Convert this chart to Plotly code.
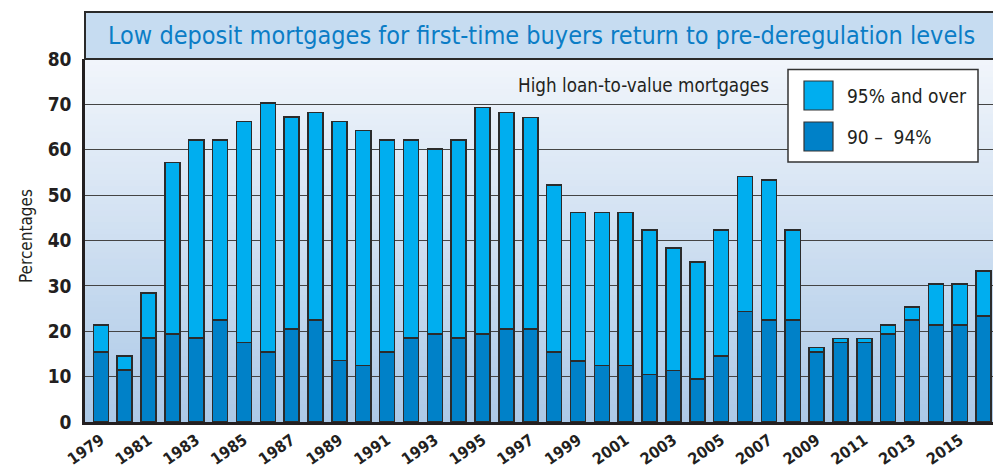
import plotly.graph_objects as go

# ---- data ----
years = list(range(1979, 2017))
total_high_ltv = [21.4, 14.5, 28.4, 57.2, 62.1, 62.1, 66.2, 70.3, 67.2, 68.2, 66.2, 64.2,
                  62.1, 62.1, 60.2, 62.1, 69.3, 68.2, 67.1, 52.2, 46.2, 46.2, 46.2, 42.3, 38.3,
                  35.3, 42.3, 54.1, 53.3, 42.3, 16.4, 18.4, 18.4, 21.4, 25.4, 30.4, 30.4, 33.3]
pct_90_94 = [15.4, 11.5, 18.5, 19.4, 18.5, 22.5, 17.5, 15.4, 20.5, 22.5, 13.5, 12.5,
             15.4, 18.5, 19.4, 18.5, 19.4, 20.5, 20.5, 15.4, 13.4, 12.5, 12.5, 10.5, 11.4,
             9.5, 14.5, 24.4, 22.5, 22.5, 15.4, 17.5, 17.5, 19.4, 22.5, 21.4, 21.4, 23.4]
pct_95_over = [round(t - l, 1) for t, l in zip(total_high_ltv, pct_90_94)]
tick_years = list(range(1979, 2016, 2))
tick_labels = [str(y) for y in tick_years]
y_ticks = list(range(0, 81, 10))

title_text = "Low deposit mortgages for first-time buyers return to pre-deregulation levels"
subtitle_text = "High loan-to-value mortgages"
legend_labels = ["95% and over", "90 \u2013  94%"]

# ---- style ----
FONT = "Liberation Sans Narrow, Arial Narrow, DejaVu Sans Condensed, sans-serif"
DARK = "#231f20"
C_UPPER = "#00aeef"
C_LOWER = "#0081c8"
OUTLINE = "#2b2b2b"

W, H = 993, 469
L, R, T, B = 85, 993, 59, 422
pw, ph = R - L, B - T


def px_x(x):
    return (x - L) / pw


def px_y(y):
    return (B - y) / ph


fig = go.Figure()
fig.add_trace(go.Bar(x=years, y=pct_90_94, name=legend_labels[1], width=0.63,
                     marker=dict(color=C_LOWER, line=dict(color=OUTLINE, width=1.5)),
                     showlegend=False))
fig.add_trace(go.Bar(x=years, y=pct_95_over, name=legend_labels[0], width=0.63,
                     marker=dict(color=C_UPPER, line=dict(color=OUTLINE, width=1.5)),
                     showlegend=False))

shapes = []
# vertical gradient background of plot area
n = 60
top_rgb = (0xf1, 0xf5, 0xfb)
bot_rgb = (0xac, 0xc9, 0xe7)
for i in range(n):
    f = i / (n - 1)
    c = tuple(int(round(bot_rgb[k] + (top_rgb[k] - bot_rgb[k]) * f)) for k in range(3))
    shapes.append(dict(type="rect", xref="paper", yref="paper", layer="below",
                       x0=0, x1=1, y0=i / n, y1=(i + 1) / n + 0.002,
                       fillcolor="rgb(%d,%d,%d)" % c, line=dict(width=0)))
# title box
shapes.append(dict(type="rect", xref="paper", yref="paper", layer="above",
                   x0=0, x1=1.02, y0=1, y1=px_y(12),
                   fillcolor="#c6dcf1", line=dict(color="#2a2a2a", width=2)))
# legend box
shapes.append(dict(type="rect", xref="paper", yref="paper", layer="above",
                   x0=px_x(788), x1=px_x(978), y0=px_y(162), y1=px_y(69.5),
                   fillcolor="white", line=dict(color="#333333", width=1.5)))
shapes.append(dict(type="rect", xref="paper", yref="paper", layer="above",
                   x0=px_x(804), x1=px_x(833), y0=px_y(110), y1=px_y(81),
                   fillcolor=C_UPPER, line=dict(color="#333333", width=1.2)))
shapes.append(dict(type="rect", xref="paper", yref="paper", layer="above",
                   x0=px_x(804), x1=px_x(833), y0=px_y(151), y1=px_y(122),
                   fillcolor=C_LOWER, line=dict(color="#333333", width=1.2)))

annotations = [
    dict(text=title_text, xref="paper", yref="paper", x=px_x(541), y=px_y(35),
         xanchor="center", yanchor="middle", showarrow=False,
         font=dict(family=FONT, size=25, color="#0b7dc6")),
    dict(text=subtitle_text, xref="paper", yref="paper", x=px_x(771), y=px_y(86),
         xanchor="right", yanchor="middle", showarrow=False,
         font=dict(family=FONT, size=18.7, color=DARK)),
    dict(text=legend_labels[0], xref="paper", yref="paper", x=px_x(845), y=px_y(96),
         xanchor="left", yanchor="middle", showarrow=False,
         font=dict(family=FONT, size=19, color=DARK)),
    dict(text=legend_labels[1], xref="paper", yref="paper", x=px_x(845), y=px_y(137),
         xanchor="left", yanchor="middle", showarrow=False,
         font=dict(family=FONT, size=19, color=DARK)),
    dict(text="Percentages", xref="paper", yref="paper", x=px_x(26), y=px_y(236),
         xanchor="center", yanchor="middle", textangle=-90, showarrow=False,
         font=dict(family=FONT, size=17, color=DARK)),
]

x0 = 1979 - (100.8 - L) / 23.86
x1 = x0 + pw / 23.86

fig.update_layout(
    width=W, height=H,
    margin=dict(l=L, r=W - R, t=T, b=H - B, pad=0),
    paper_bgcolor="white", plot_bgcolor="rgba(0,0,0,0)",
    barmode="stack",
    shapes=shapes, annotations=annotations,
    showlegend=False,
    xaxis=dict(range=[x0, x1], tickvals=tick_years, ticktext=tick_labels,
               tickangle=-35, showgrid=False, zeroline=False,
               showline=True, linecolor=DARK, linewidth=2.5,
               ticks="", ticklabelstandoff=0, automargin=False,
               tickfont=dict(family=FONT, size=16, color=DARK, weight="bold")),
    yaxis=dict(range=[0, 80], tickvals=y_ticks, showgrid=True, gridcolor="#444444",
               gridwidth=1.3, zeroline=False, showline=True, linecolor=DARK, linewidth=2.5,
               ticks="", ticklabelstandoff=7, automargin=False,
               tickfont=dict(family=FONT, size=19, color=DARK, weight="bold")),
)

fig.write_html("out.html", config={"displayModeBar": False},
               post_script="document.body.style.margin='0';document.body.style.overflow='hidden';")
